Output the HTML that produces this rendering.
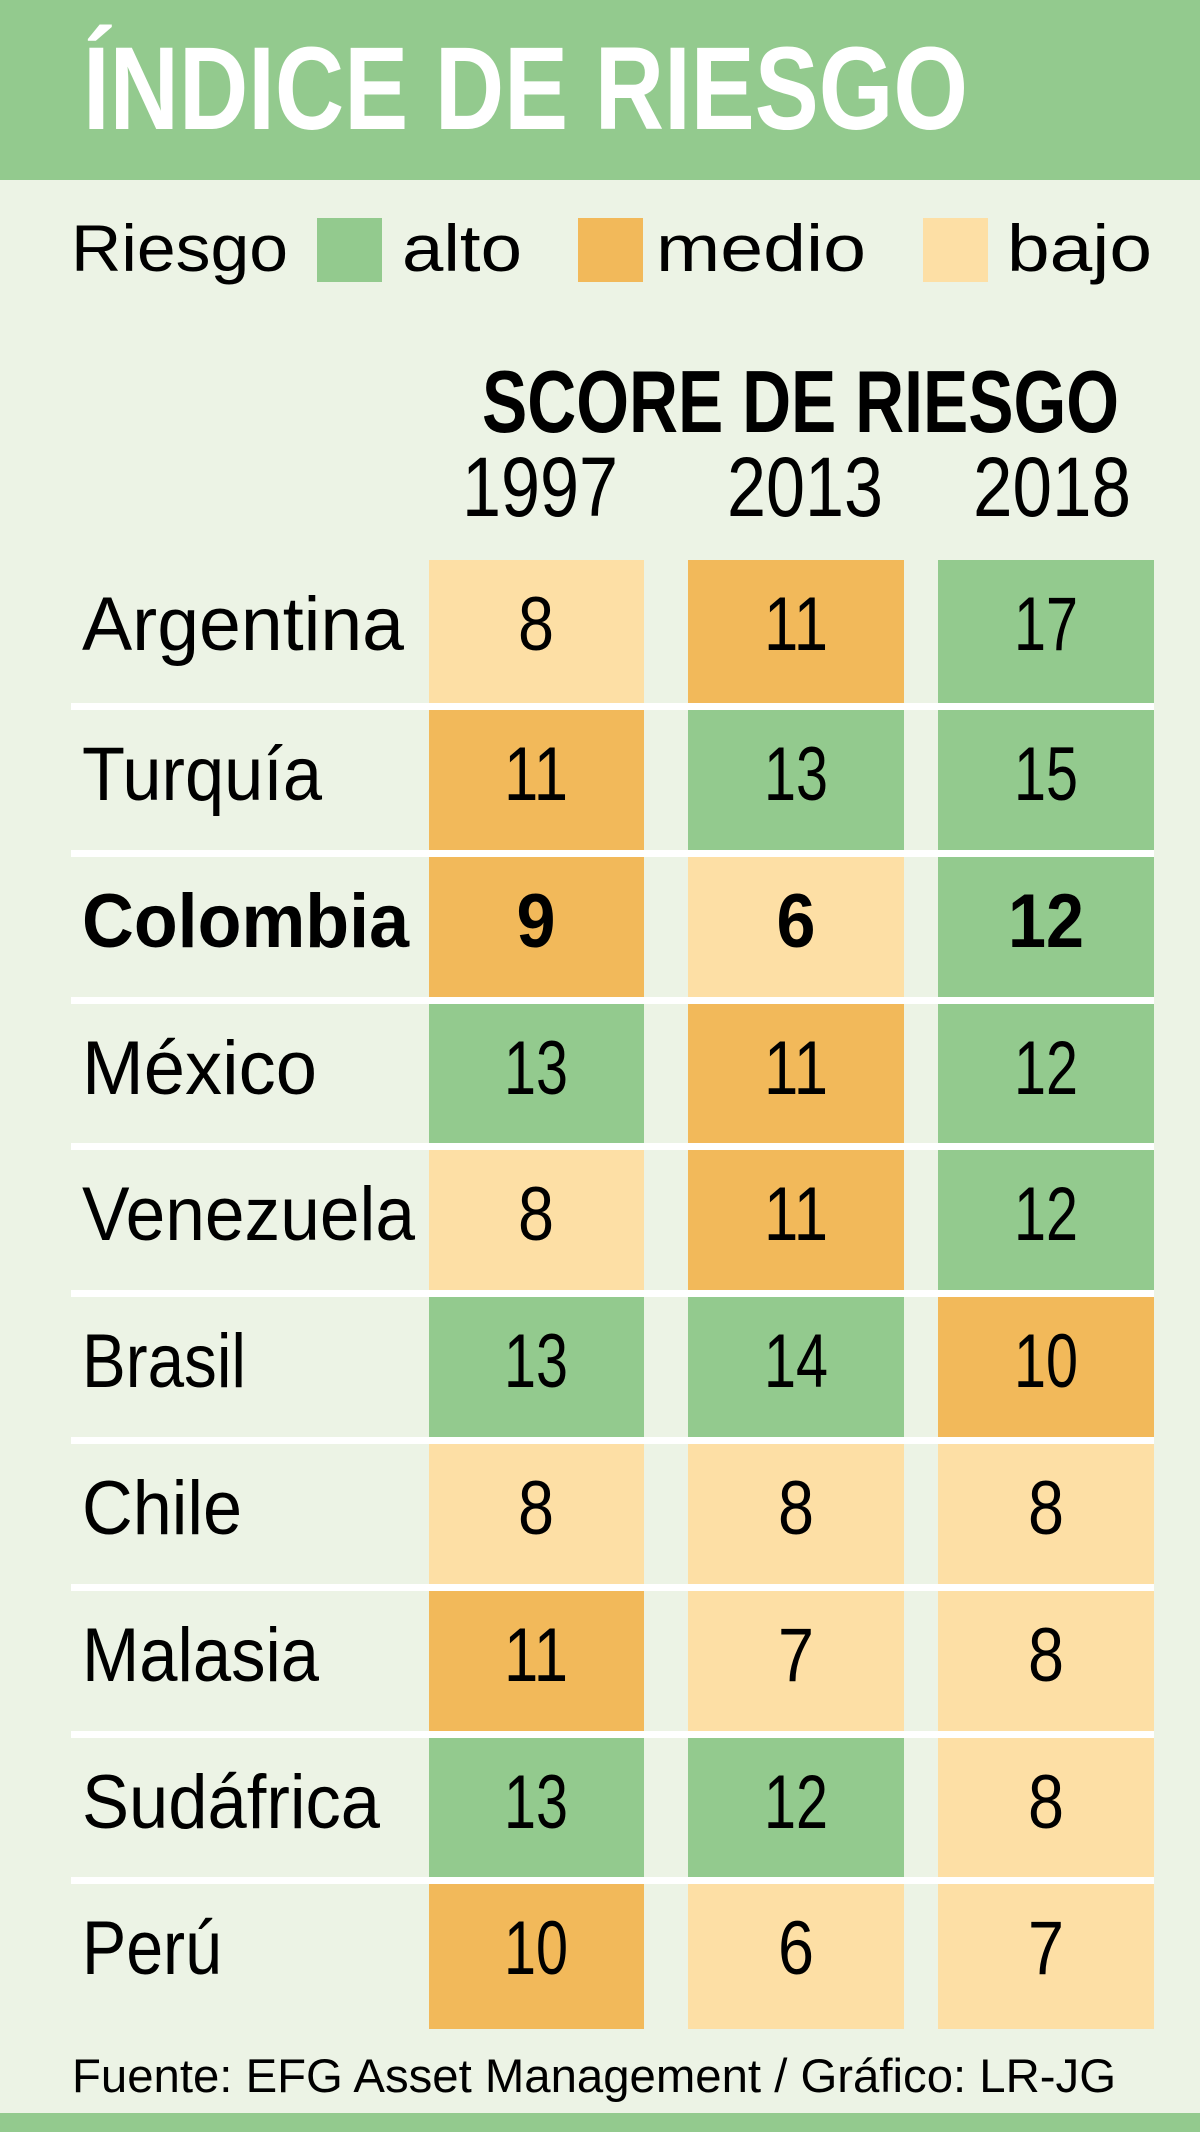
<!DOCTYPE html>
<html><head><meta charset="utf-8"><style>
html,body{margin:0;padding:0;background:#ecf3e5;}
svg{display:block;}
text{font-family:"Liberation Sans",sans-serif;fill:#000;}
.n{font-size:76px;text-anchor:middle;}
.c{font-size:76px;}
.b{font-weight:bold;}
</style></head><body>
<svg width="1200" height="2132" viewBox="0 0 1200 2132" xmlns="http://www.w3.org/2000/svg">
<rect x="0" y="0" width="1200" height="2132" fill="#ecf3e5"/>
<rect x="0" y="0" width="1200" height="180" fill="#93ca8e"/>
<text x="83" y="129" font-size="118" font-weight="bold" style="fill:#fff" textLength="885" lengthAdjust="spacingAndGlyphs">ÍNDICE DE RIESGO</text>

<text x="71" y="271" font-size="66" textLength="217" lengthAdjust="spacingAndGlyphs">Riesgo</text>
<rect x="317" y="218" width="65" height="64" fill="#93ca8e"/>
<text x="402" y="271" font-size="66" textLength="120" lengthAdjust="spacingAndGlyphs">alto</text>
<rect x="578" y="218" width="65" height="64" fill="#f2b95a"/>
<text x="656" y="271" font-size="66" textLength="210" lengthAdjust="spacingAndGlyphs">medio</text>
<rect x="923" y="218" width="65" height="64" fill="#fddfa5"/>
<text x="1007" y="271" font-size="66" textLength="145" lengthAdjust="spacingAndGlyphs">bajo</text>

<text x="482" y="432" font-size="88" font-weight="bold" textLength="637" lengthAdjust="spacingAndGlyphs">SCORE DE RIESGO</text>
<text x="462" y="516" font-size="84" textLength="156" lengthAdjust="spacingAndGlyphs">1997</text>
<text x="727" y="516" font-size="84" textLength="156" lengthAdjust="spacingAndGlyphs">2013</text>
<text x="973" y="516" font-size="84" textLength="158" lengthAdjust="spacingAndGlyphs">2018</text>

<!-- Row 0 Argentina -->
<rect x="429" y="560" width="215" height="143" fill="#fddfa5"/>
<rect x="688" y="560" width="216" height="143" fill="#f2b95a"/>
<rect x="938" y="560" width="216" height="143" fill="#93ca8e"/>
<text class="c" x="82" y="650" textLength="322" lengthAdjust="spacingAndGlyphs">Argentina</text>
<text class="n" x="536" y="650" textLength="36" lengthAdjust="spacingAndGlyphs">8</text>
<text class="n" x="796" y="650" textLength="64" lengthAdjust="spacingAndGlyphs">11</text>
<text class="n" x="1046" y="650" textLength="64" lengthAdjust="spacingAndGlyphs">17</text>

<!-- Row 1 Turquía -->
<rect x="429" y="710" width="215" height="140" fill="#f2b95a"/>
<rect x="688" y="710" width="216" height="140" fill="#93ca8e"/>
<rect x="938" y="710" width="216" height="140" fill="#93ca8e"/>
<text class="c" x="82" y="800" textLength="240" lengthAdjust="spacingAndGlyphs">Turquía</text>
<text class="n" x="536" y="800" textLength="64" lengthAdjust="spacingAndGlyphs">11</text>
<text class="n" x="796" y="800" textLength="64" lengthAdjust="spacingAndGlyphs">13</text>
<text class="n" x="1046" y="800" textLength="64" lengthAdjust="spacingAndGlyphs">15</text>

<!-- Row 2 Colombia -->
<rect x="429" y="857" width="215" height="140" fill="#f2b95a"/>
<rect x="688" y="857" width="216" height="140" fill="#fddfa5"/>
<rect x="938" y="857" width="216" height="140" fill="#93ca8e"/>
<text class="c b" x="82" y="947" textLength="327" lengthAdjust="spacingAndGlyphs">Colombia</text>
<text class="n b" x="536" y="947" textLength="39" lengthAdjust="spacingAndGlyphs">9</text>
<text class="n b" x="796" y="947" textLength="39" lengthAdjust="spacingAndGlyphs">6</text>
<text class="n b" x="1046" y="947" textLength="76" lengthAdjust="spacingAndGlyphs">12</text>

<!-- Row 3 México -->
<rect x="429" y="1004" width="215" height="139" fill="#93ca8e"/>
<rect x="688" y="1004" width="216" height="139" fill="#f2b95a"/>
<rect x="938" y="1004" width="216" height="139" fill="#93ca8e"/>
<text class="c" x="82" y="1094" textLength="235" lengthAdjust="spacingAndGlyphs">México</text>
<text class="n" x="536" y="1094" textLength="64" lengthAdjust="spacingAndGlyphs">13</text>
<text class="n" x="796" y="1094" textLength="64" lengthAdjust="spacingAndGlyphs">11</text>
<text class="n" x="1046" y="1094" textLength="64" lengthAdjust="spacingAndGlyphs">12</text>

<!-- Row 4 Venezuela -->
<rect x="429" y="1150" width="215" height="140" fill="#fddfa5"/>
<rect x="688" y="1150" width="216" height="140" fill="#f2b95a"/>
<rect x="938" y="1150" width="216" height="140" fill="#93ca8e"/>
<text class="c" x="82" y="1240" textLength="333" lengthAdjust="spacingAndGlyphs">Venezuela</text>
<text class="n" x="536" y="1240" textLength="36" lengthAdjust="spacingAndGlyphs">8</text>
<text class="n" x="796" y="1240" textLength="64" lengthAdjust="spacingAndGlyphs">11</text>
<text class="n" x="1046" y="1240" textLength="64" lengthAdjust="spacingAndGlyphs">12</text>

<!-- Row 5 Brasil -->
<rect x="429" y="1297" width="215" height="140" fill="#93ca8e"/>
<rect x="688" y="1297" width="216" height="140" fill="#93ca8e"/>
<rect x="938" y="1297" width="216" height="140" fill="#f2b95a"/>
<text class="c" x="82" y="1387" textLength="164" lengthAdjust="spacingAndGlyphs">Brasil</text>
<text class="n" x="536" y="1387" textLength="64" lengthAdjust="spacingAndGlyphs">13</text>
<text class="n" x="796" y="1387" textLength="64" lengthAdjust="spacingAndGlyphs">14</text>
<text class="n" x="1046" y="1387" textLength="64" lengthAdjust="spacingAndGlyphs">10</text>

<!-- Row 6 Chile -->
<rect x="429" y="1444" width="215" height="140" fill="#fddfa5"/>
<rect x="688" y="1444" width="216" height="140" fill="#fddfa5"/>
<rect x="938" y="1444" width="216" height="140" fill="#fddfa5"/>
<text class="c" x="82" y="1534" textLength="160" lengthAdjust="spacingAndGlyphs">Chile</text>
<text class="n" x="536" y="1534" textLength="36" lengthAdjust="spacingAndGlyphs">8</text>
<text class="n" x="796" y="1534" textLength="36" lengthAdjust="spacingAndGlyphs">8</text>
<text class="n" x="1046" y="1534" textLength="36" lengthAdjust="spacingAndGlyphs">8</text>

<!-- Row 7 Malasia -->
<rect x="429" y="1591" width="215" height="140" fill="#f2b95a"/>
<rect x="688" y="1591" width="216" height="140" fill="#fddfa5"/>
<rect x="938" y="1591" width="216" height="140" fill="#fddfa5"/>
<text class="c" x="82" y="1681" textLength="237" lengthAdjust="spacingAndGlyphs">Malasia</text>
<text class="n" x="536" y="1681" textLength="64" lengthAdjust="spacingAndGlyphs">11</text>
<text class="n" x="796" y="1681" textLength="36" lengthAdjust="spacingAndGlyphs">7</text>
<text class="n" x="1046" y="1681" textLength="36" lengthAdjust="spacingAndGlyphs">8</text>

<!-- Row 8 Sudáfrica -->
<rect x="429" y="1738" width="215" height="139" fill="#93ca8e"/>
<rect x="688" y="1738" width="216" height="139" fill="#93ca8e"/>
<rect x="938" y="1738" width="216" height="139" fill="#fddfa5"/>
<text class="c" x="82" y="1828" textLength="298" lengthAdjust="spacingAndGlyphs">Sudáfrica</text>
<text class="n" x="536" y="1828" textLength="64" lengthAdjust="spacingAndGlyphs">13</text>
<text class="n" x="796" y="1828" textLength="64" lengthAdjust="spacingAndGlyphs">12</text>
<text class="n" x="1046" y="1828" textLength="36" lengthAdjust="spacingAndGlyphs">8</text>

<!-- Row 9 Perú -->
<rect x="429" y="1884" width="215" height="145" fill="#f2b95a"/>
<rect x="688" y="1884" width="216" height="145" fill="#fddfa5"/>
<rect x="938" y="1884" width="216" height="145" fill="#fddfa5"/>
<text class="c" x="82" y="1974" textLength="140" lengthAdjust="spacingAndGlyphs">Perú</text>
<text class="n" x="536" y="1974" textLength="64" lengthAdjust="spacingAndGlyphs">10</text>
<text class="n" x="796" y="1974" textLength="36" lengthAdjust="spacingAndGlyphs">6</text>
<text class="n" x="1046" y="1974" textLength="36" lengthAdjust="spacingAndGlyphs">7</text>

<!-- separators -->
<g fill="#ffffff">
<rect x="71" y="703" width="1083" height="7"/>
<rect x="71" y="850" width="1083" height="7"/>
<rect x="71" y="997" width="1083" height="7"/>
<rect x="71" y="1143" width="1083" height="7"/>
<rect x="71" y="1290" width="1083" height="7"/>
<rect x="71" y="1437" width="1083" height="7"/>
<rect x="71" y="1584" width="1083" height="7"/>
<rect x="71" y="1731" width="1083" height="7"/>
<rect x="71" y="1877" width="1083" height="7"/>
</g>

<text x="72" y="2092" font-size="47" textLength="1044" lengthAdjust="spacingAndGlyphs">Fuente: EFG Asset Management / Gráfico: LR-JG</text>
<rect x="0" y="2113" width="1200" height="19" fill="#93ca8e"/>
</svg>
</body></html>
